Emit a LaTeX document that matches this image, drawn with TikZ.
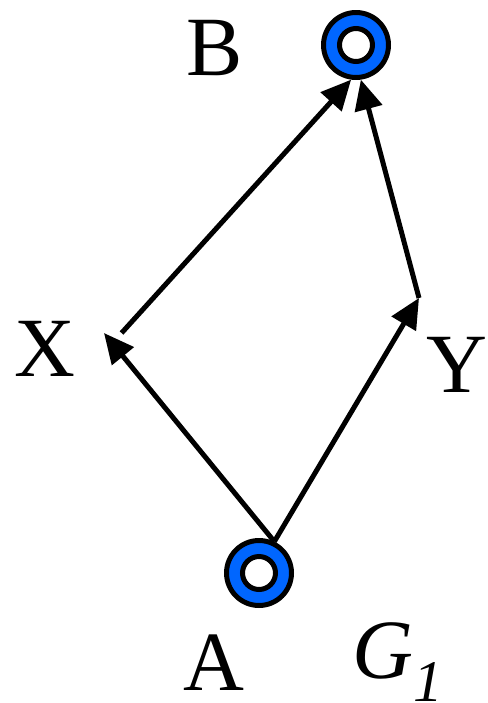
\documentclass[tikz,border=0pt]{standalone}
\usepackage{fontspec}
\setmainfont{Liberation Serif}
\usetikzlibrary{arrows.meta, positioning}
\definecolor{vtxblue}{HTML}{0066FF}

\begin{document}
\begin{tikzpicture}[x=0.02cm, y=-0.02cm,
  font=\fontsize{48}{52}\selectfont,
  vtx/.style={circle, draw=black, fill=vtxblue, line width=0.1cm,
    minimum size=1.3cm, inner sep=0pt,
    path picture={\draw[line width=0.1cm, fill=white]
      (path picture bounding box.center) circle[radius=0.33cm];}},
  lbl/.style={anchor=base, inner sep=0pt, text depth=0pt},
  arr/.style={-{Triangle[length=0.6cm, width=0.55cm]}, line width=0.1cm}]
  \useasboundingbox (0,0) rectangle (487,703);
  \node[vtx] (B) at (356,45) {};
  \node[vtx] (A) at (259,573) {};
  \coordinate (xp) at (104,333);
  \coordinate (yp) at (419,298);
  \node[lbl] (lB) at (215,75) {B};
  \node[lbl] (lX) at (45,376) {X};
  \node[lbl] (lY) at (457,392) {Y};
  \node[lbl] (lA) at (214,690) {A};
  \node[lbl] (lG) at (398,678) {\textit{G\textsubscript{1}}};
  \draw[arr] (A.64) -- (xp);
  \draw[arr] (A.64) -- (yp);
  \draw[arr] ([xshift=10]xp) -- (B.262);
  \draw[arr] (yp) -- (B.278);
\end{tikzpicture}
\end{document}
